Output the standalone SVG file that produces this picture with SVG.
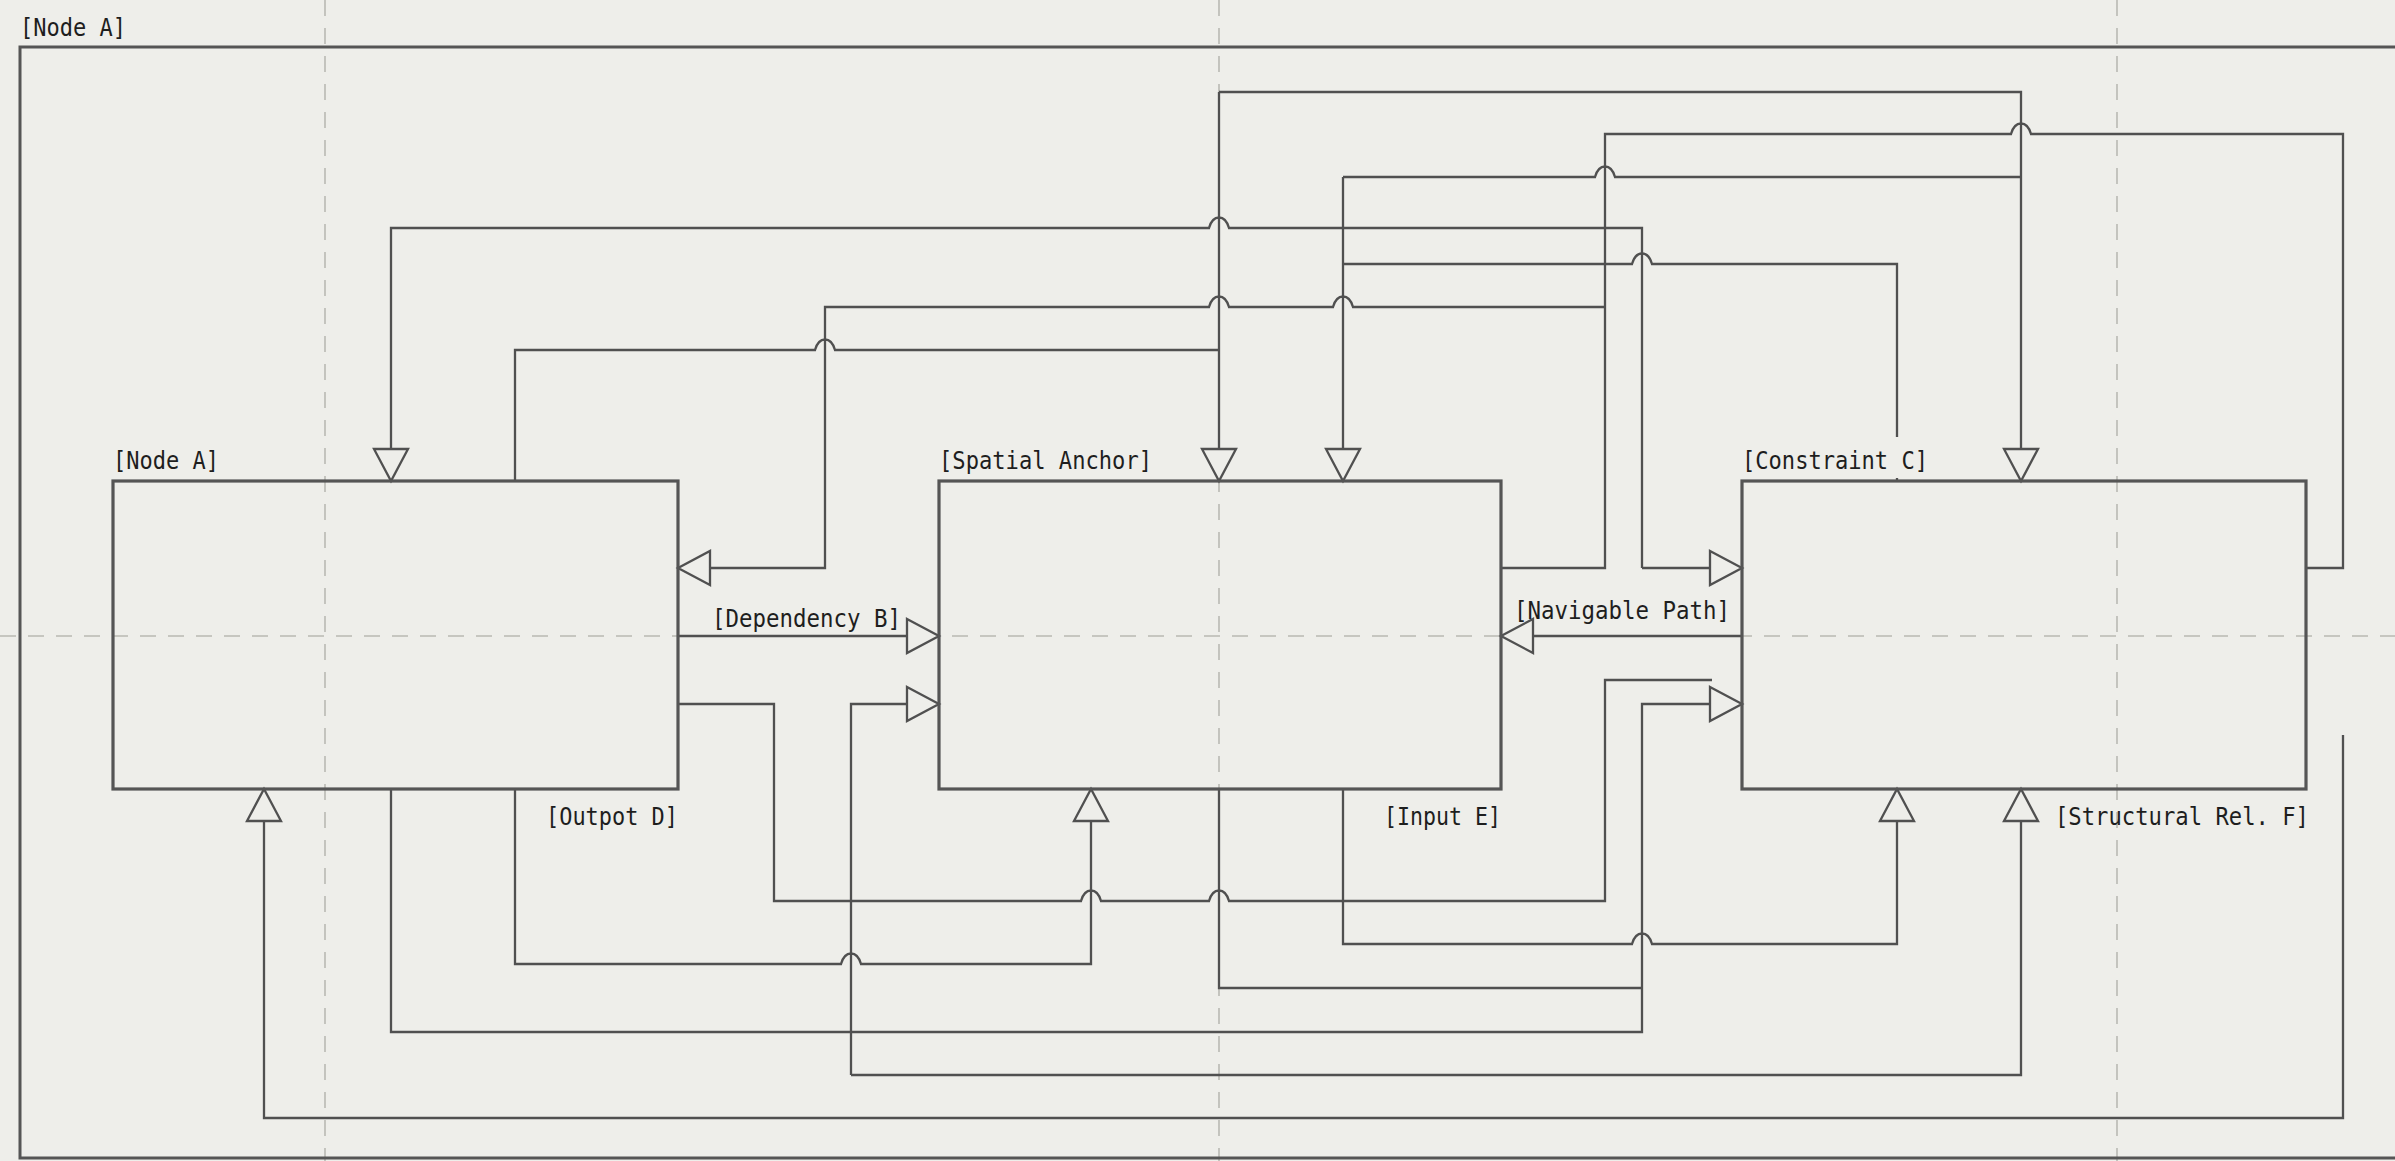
<svg xmlns="http://www.w3.org/2000/svg" width="2395" height="1161" viewBox="0 0 2395 1161">
  <defs>
    <style>
      .bg { fill: #eeeeea; }
      .grid { stroke: #b9b9b3; stroke-width: 1.6; stroke-dasharray: 16 12; fill: none; }
      .frame { fill: none; stroke: #555; stroke-width: 3; }
      .box { fill: none; stroke: #555; stroke-width: 3.2; }
      .conn { fill: none; stroke: #505050; stroke-width: 2.3; stroke-linejoin: miter; }
      .arr { marker-end: url(#tri); }
      .lbl { font-family: "DejaVu Sans Mono", "Liberation Mono", monospace; font-size: 24px; fill: #1e1e1e; }
      .lblbg { fill: #eeeeea; }
    </style>
    <marker id="tri" viewBox="0 0 32 34" refX="32" refY="17" markerWidth="32" markerHeight="34" markerUnits="userSpaceOnUse" orient="auto" overflow="visible">
      <path d="M0,0 L32,17 L0,34 Z" fill="#eeeeea" stroke="#505050" stroke-width="2.3" stroke-linejoin="miter"/>
    </marker>
  </defs>

  <rect class="bg" x="0" y="0" width="2395" height="1161"/>

  <g id="grid">
    <line class="grid" x1="325" y1="0" x2="325" y2="1161"/>
    <line class="grid" x1="1219" y1="0" x2="1219" y2="1161"/>
    <line class="grid" x1="2117" y1="0" x2="2117" y2="1161"/>
    <line class="grid" x1="0" y1="636" x2="2395" y2="636"/>
  </g>

  <g id="frame">
    <rect class="frame" x="20" y="47" width="2400" height="1111"/>
    <text class="lbl" x="20" y="36" textLength="106" lengthAdjust="spacingAndGlyphs">[Node A]</text>
  </g>

  <g id="connectors">
    <!-- top region -->
    <path class="conn arr" d="M1219,92 V481"/>
    <path class="conn arr" d="M1219,92 H2021 V481"/>
    <path class="conn arr" d="M1343,177 V481"/>
    <path class="conn" d="M1343,177 H1595 C1599,163 1611,163 1615,177 H2021"/>
    <path class="conn" d="M1343,264 H1632 C1636,250 1648,250 1652,264 H1897 V481"/>
    <path class="conn" d="M1501,568 H1605 V134 H2011 C2015,120 2027,120 2031,134 H2343 V568 H2306"/>
    <path class="conn arr" d="M1642,568 V228 H1229 C1225,214 1213,214 1209,228 H391 V481"/>
    <path class="conn arr" d="M1642,568 H1742"/>
    <path class="conn arr" d="M1605,307 H1353 C1349,293 1337,293 1333,307 H1229 C1225,293 1213,293 1209,307 H825 V568 H678"/>
    <path class="conn" d="M515,481 V350 H815 C819,336 831,336 835,350 H1219"/>
    <!-- middle -->
    <path class="conn arr" d="M678,636 H939"/>
    <path class="conn arr" d="M1742,636 H1501"/>
    <!-- bottom region -->
    <path class="conn" d="M678,704 H774 V901 H1081 C1085,887 1097,887 1101,901 H1209 C1213,887 1225,887 1229,901 H1605 V680 H1712"/>
    <path class="conn arr" d="M851,1075 V704 H939"/>
    <path class="conn arr" d="M851,1075 H2021 V789"/>
    <path class="conn arr" d="M391,789 V1032 H1642 V704 H1742"/>
    <path class="conn" d="M1219,789 V988 H1642"/>
    <path class="conn arr" d="M515,789 V964 H841 C845,950 857,950 861,964 H1091 V789"/>
    <path class="conn arr" d="M1343,789 V944 H1632 C1636,930 1648,930 1652,944 H1897 V789"/>
    <path class="conn arr" d="M2343,735 V1118 H264 V789"/>
  </g>

  <g id="edge-labels">
    <text class="lbl" x="712" y="627" textLength="189" lengthAdjust="spacingAndGlyphs">[Dependency B]</text>
    <text class="lbl" x="1514" y="619" textLength="216" lengthAdjust="spacingAndGlyphs">[Navigable Path]</text>
    <text class="lbl" x="678" y="825" text-anchor="end" textLength="132" lengthAdjust="spacingAndGlyphs">[Outpot D]</text>
    <text class="lbl" x="1501" y="825" text-anchor="end" textLength="117" lengthAdjust="spacingAndGlyphs">[Input E]</text>
    <text class="lbl" x="2309" y="825" text-anchor="end" textLength="254" lengthAdjust="spacingAndGlyphs">[Structural Rel. F]</text>
  </g>

  <g id="node-a">
    <rect class="box" x="113" y="481" width="565" height="308"/>
    <rect class="lblbg" x="111" y="440" width="110" height="38"/>
    <text class="lbl" x="113" y="469" textLength="106" lengthAdjust="spacingAndGlyphs">[Node A]</text>
  </g>

  <g id="node-spatial-anchor">
    <rect class="box" x="939" y="481" width="562" height="308"/>
    <rect class="lblbg" x="937" y="440" width="217" height="38"/>
    <text class="lbl" x="939" y="469" textLength="213" lengthAdjust="spacingAndGlyphs">[Spatial Anchor]</text>
  </g>

  <g id="node-constraint-c">
    <rect class="box" x="1742" y="481" width="564" height="308"/>
    <rect class="lblbg" x="1738" y="437" width="194" height="41"/>
    <text class="lbl" x="1742" y="469" textLength="186" lengthAdjust="spacingAndGlyphs">[Constraint C]</text>
  </g>
</svg>
